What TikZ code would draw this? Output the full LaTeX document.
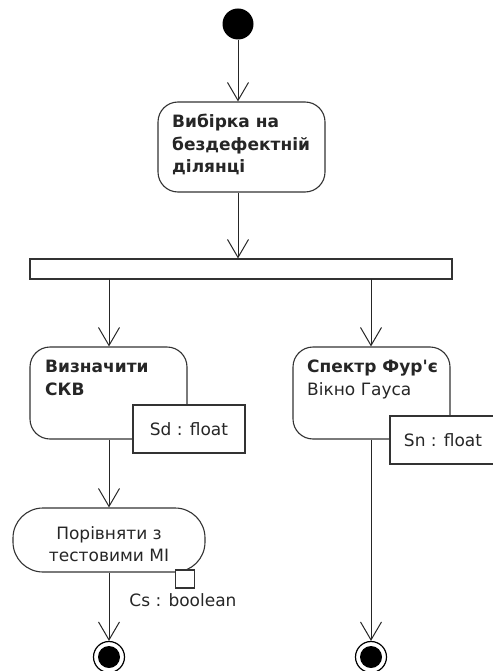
\documentclass[tikz,border=0pt]{standalone}
\usepackage{fontspec}
\setmainfont{DejaVu Sans}
\newfontfamily\plainfont{DejaVu Sans}
\usetikzlibrary{arrows.meta}
\tikzset{
  every node/.style={inner sep=0pt},
  lbl/.style={font=\fontsize{17}{22.5}\selectfont, align=left, text=black!85},
  actbox/.style={draw=black!80, line width=1.1pt, fill=white, rounded corners=20pt},
  pinbox/.style={draw=black!80, line width=1.1pt, fill=white},
  flow/.style={draw=black!85, line width=1pt, -{Straight Barb[length=18pt,width=21pt,line width=1pt]}},
}
\begin{document}
\begin{tikzpicture}[x=1pt,y=-1pt]
\useasboundingbox (0,0) rectangle (492,671);
% start
\node[circle, fill=black, minimum size=31pt] (start) at (238,24) {};
% activity 1
\node[actbox, minimum width=167pt, minimum height=90pt] (a1) at (241.5,147) {};
\node[lbl, font=\fontsize{17}{22.5}\selectfont\bfseries, anchor=north west] (a1t) at (172,114) {Вибірка на\\бездефектній\\ділянці};
% fork bar
\node[pinbox, minimum width=422pt, minimum height=20pt] (bar) at (241,269) {};
% activity 2 left
\node[actbox, minimum width=157pt, minimum height=92pt] (a2) at (108.5,393) {};
\node[lbl, font=\fontsize{17}{22.5}\selectfont\bfseries, anchor=north west] (a2t) at (45,360) {Визначити\\СКВ};
% activity 2 right
\node[actbox, minimum width=157pt, minimum height=92pt] (a3) at (371.5,393) {};
\node[lbl, anchor=north west] (a3t) at (307,360) {{\plainfont\bfseries Спектр Фур'є}\\Вікно Гауса};
% pins
\node[pinbox, minimum width=112pt, minimum height=48pt, lbl] (sd) at (189,429) {Sd : float};
\node[pinbox, minimum width=112pt, minimum height=48pt] (sn) at (446,440) {};
\node[lbl] (snt) at (443,440) {Sn : float};
% activity 3
\node[actbox, rounded corners=30pt, minimum width=192pt, minimum height=64pt] (a4) at (109,540) {};
\node[lbl, align=center] (a4t) at (109,544) {Порівняти з\\тестовими МІ};
\node[pinbox, minimum width=19pt, minimum height=18pt] (cs) at (185,579) {};
\node[lbl] (cst) at (183,600) {Cs : boolean};
% end nodes
\node[circle, draw=black, line width=1.2pt, fill=white, minimum size=31pt] (endL) at (109,657) {};
\node[circle, fill=black, minimum size=22pt] (endLi) at (109,657) {};
\node[circle, draw=black, line width=1.2pt, fill=white, minimum size=31pt] (endR) at (371,657) {};
\node[circle, fill=black, minimum size=22pt] (endRi) at (371,657) {};
% flows
\draw[flow] (start) -- (start |- a1.north);
\draw[flow] (start |- a1.south) -- (start |- bar.north);
\coordinate (bL) at (109,279);
\coordinate (bR) at (371,279);
\draw[flow] (bL) -- (bL |- a2.north);
\draw[flow] (bR) -- (bR |- a3.north);
\draw[flow] (bL |- a2.south) -- (bL |- a4.north);
\draw[flow] (bL |- a4.south) -- (endL.north);
\draw[flow] (bR |- a3.south) -- (endR.north);
\end{tikzpicture}
\end{document}
